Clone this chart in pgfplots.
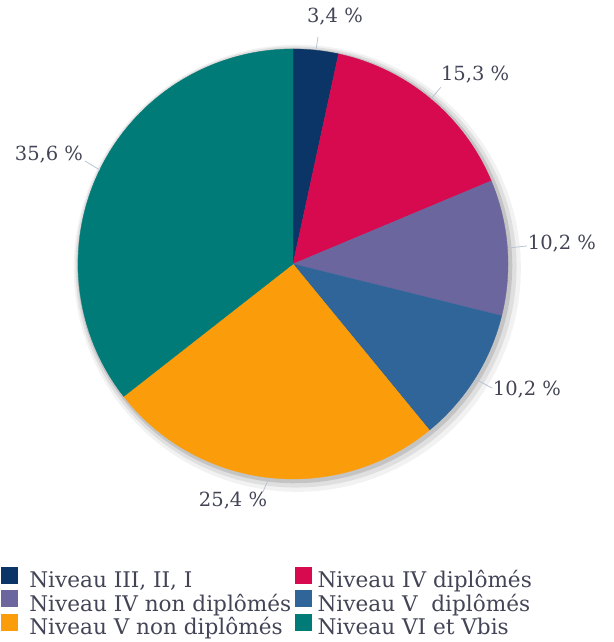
\documentclass[border=0pt]{standalone}
\usepackage{pgfplots}
\pgfplotsset{compat=1.18}
\usepackage{fontspec}
\setmainfont{DejaVu Serif}
\definecolor{c1}{HTML}{0B3467}
\definecolor{c2}{HTML}{D70A50}
\definecolor{c3}{HTML}{6B669E}
\definecolor{c4}{HTML}{2F6598}
\definecolor{c5}{HTML}{FB9C0A}
\definecolor{c6}{HTML}{007B78}
\definecolor{txt}{HTML}{434556}
\definecolor{lead}{HTML}{B8C4D4}
% slice: start cumulative %, end cumulative %, colour (total 100.1 %)
\newcommand\slice[3]{%
  \addplot[fill=#3, draw=#3, line width=0.3pt, domain=#1:#2, samples=60, variable=\t]
    ({cos(90-3.5964*\t)}, {sin(90-3.5964*\t)}) -- (axis cs:0,0) -- cycle;}
\begin{document}
\begin{tikzpicture}
\begin{axis}[
  x=215bp, y=215bp,
  xmin=-1.3628, xmax=1.4884, ymin=-1.7581, ymax=1.2279,
  hide axis, clip=false,
  legend columns=2,
  legend image code/.code={\fill[#1, overlay] (0bp,0bp) rectangle (16bp,16bp);
    \path (0bp,0bp) rectangle (16bp,1bp);},
  legend style={at={(axis cs:-1.358,-1.430)}, anchor=north west, draw=none, fill=none,
    inner sep=0pt, outer sep=0pt, row sep=0bp,
    font=\fontsize{21.6bp}{23bp}\selectfont, text=txt,
    nodes={inner sep=0bp, text depth=6.8bp, text height=16.5bp},
    /tikz/every odd column/.append style={column sep=12bp},
    /tikz/every even column/.append style={column sep=4bp}},
  legend cell align=left,
]
% soft shadow
\addplot[forget plot, fill=black, opacity=0.05, draw=none, domain=0:360, samples=120] ({0.02+1.04*cos(x)},{-0.02+1.04*sin(x)});
\addplot[forget plot, fill=black, opacity=0.08, draw=none, domain=0:360, samples=120] ({0.014+1.026*cos(x)},{-0.014+1.026*sin(x)});
\addplot[forget plot, fill=black, opacity=0.12, draw=none, domain=0:360, samples=120] ({0.008+1.012*cos(x)},{-0.008+1.012*sin(x)});
\slice{0}{3.4}{c1}
\addlegendentry{Niveau III, II, I}
\slice{3.4}{18.7}{c2}
\addlegendentry{\hspace*{-6bp}Niveau IV diplômés}
\slice{18.7}{28.9}{c3}
\addlegendentry{Niveau IV non diplômés}
\slice{28.9}{39.1}{c4}
\addlegendentry{\hspace*{-6bp}Niveau V\ \ diplômés}
\slice{39.1}{64.5}{c5}
\addlegendentry{Niveau V non diplômés}
\slice{64.5}{100.1}{c6}
\addlegendentry{\hspace*{-6bp}Niveau VI et Vbis}
% leader lines
\addplot[forget plot, lead, line width=0.8pt] coordinates {(0.107,0.995) (0.116,1.056)};
\addplot[forget plot, lead, line width=0.8pt] coordinates {(0.642,0.767) (0.688,0.823)};
\addplot[forget plot, lead, line width=0.8pt] coordinates {(1.0,0.074) (1.088,0.084)};
\addplot[forget plot, lead, line width=0.8pt] coordinates {(0.847,-0.535) (0.926,-0.577)};
\addplot[forget plot, lead, line width=0.8pt] coordinates {(-0.112,-0.995) (-0.140,-1.060)};
\addplot[forget plot, lead, line width=0.8pt] coordinates {(-0.898,0.437) (-0.967,0.479)};
% labels
\begin{scope}[every node/.style={text=txt, font=\fontsize{19.5bp}{21bp}\selectfont, inner sep=0pt}]
\node at (axis cs:0.195,1.149) {3,4 \%};
\node at (axis cs:0.847,0.879) {15,3 \%};
\node at (axis cs:1.251,0.093) {10,2 \%};
\node at (axis cs:1.088,-0.586) {10,2 \%};
\node at (axis cs:-0.279,-1.102) {25,4 \%};
\node at (axis cs:-1.135,0.507) {35,6 \%};
\end{scope}
\path (rel axis cs:0,0) rectangle (rel axis cs:1,1);
\end{axis}
\end{tikzpicture}
\end{document}
